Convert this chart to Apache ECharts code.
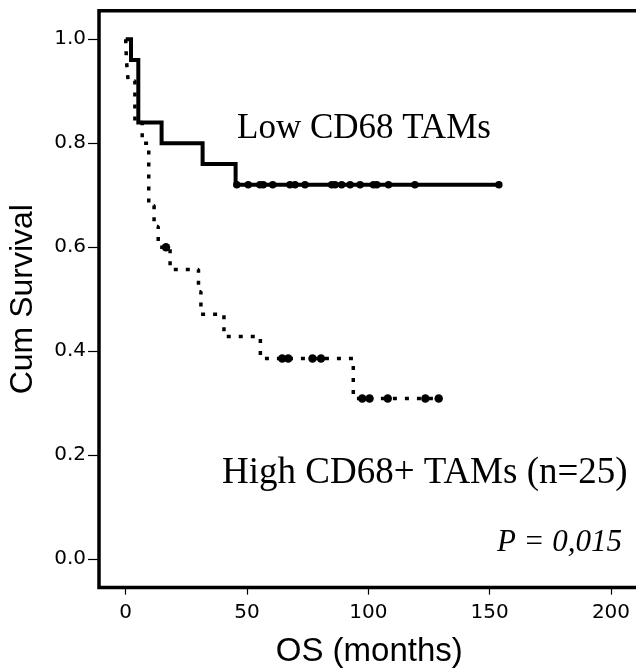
<!DOCTYPE html>
<html>
<head>
<meta charset="utf-8">
<script src="https://cdn.jsdelivr.net/npm/echarts@6/dist/echarts.min.js"></script>
<style>
  html, body { margin: 0; padding: 0; background: #fff; }
  #chart { width: 636px; height: 671px; }
</style>
</head>
<body>
<div id="chart"></div>
<script>
// Low CD68 TAMs: step points (time in months, cumulative survival)
const lowTimes = [0, 2.2, 5.2, 14.8, 31.7, 45.3, 153.8];
const lowSurv = [1.0, 0.96, 0.84, 0.80, 0.76, 0.72, 0.72];
const lowCensorTimes = [45.8, 50.5, 55.3, 56.7, 60.6, 67.7, 69.8, 73.9, 84.9, 86.3, 89.0, 92.5, 96.6, 102.1, 103.5, 108.3, 119.2, 153.8];

// High CD68+ TAMs
const highTimes = [0, 0.3, 1.0, 3.8, 6.8, 9.5, 11.7, 13.4, 18.3, 30.0, 31.0, 40.5, 55.5, 93.8, 129];
const highSurv = [1.0, 0.96, 0.92, 0.84, 0.80, 0.68, 0.64, 0.60, 0.557, 0.514, 0.471, 0.428, 0.386, 0.309, 0.309];
const highCensorTimes = [16.6, 64.5, 67, 77, 80.5, 97.5, 100.5, 108, 123.5, 129];

const xTicks = [0, 50, 100, 150, 200];
const yTicks = [0, 0.2, 0.4, 0.6, 0.8, 1.0];

// survival value of a step curve at time t
function survAt(times, surv, t) {
    let s = surv[0];
    for (let i = 0; i < times.length; i++) {
        if (times[i] <= t) s = surv[i];
    }
    return s;
}

const pair = (xs, ys) => xs.map((x, i) => [x, ys[i]]);

const chart = echarts.init(document.getElementById('chart'));
chart.setOption({
    animation: false,
    grid: {
        left: 99,
        top: 10.7,
        width: 560.5,
        height: 576.9,
        containLabel: false,
        outerBoundsMode: 'none',
        show: true,
        borderColor: '#000',
        borderWidth: 3.5,
        backgroundColor: 'transparent'
    },
    xAxis: {
        type: 'value',
        min: -11,
        max: 220,
        name: 'OS (months)',
        nameLocation: 'middle',
        nameGap: 48,
        nameTextStyle: { fontFamily: 'Liberation Sans', fontSize: 33, color: '#000', padding: [0, 20, 0, 0] },
        axisLine: { show: false, onZero: false },
        splitLine: { show: false },
        axisTick: { show: true, length: 7, inside: false, customValues: xTicks, lineStyle: { color: '#000', width: 1.2 } },
        axisLabel: {
            customValues: xTicks,
            margin: 15,
            fontFamily: 'DejaVu Sans',
            fontSize: 20,
            color: '#000'
        }
    },
    yAxis: {
        type: 'value',
        min: -0.055,
        max: 1.055,
        name: 'Cum Survival',
        nameLocation: 'middle',
        nameGap: 60,
        nameTextStyle: { fontFamily: 'Liberation Sans', fontSize: 32, color: '#000' },
        axisLine: { show: false, onZero: false },
        splitLine: { show: false },
        axisTick: { show: true, length: 11, customValues: yTicks, lineStyle: { color: '#000', width: 1.2 } },
        axisLabel: {
            customValues: yTicks,
            margin: 13,
            fontFamily: 'DejaVu Sans',
            fontSize: 20,
            color: '#000',
            formatter: v => v.toFixed(1)
        }
    },
    series: [
        {
            name: 'High CD68+ TAMs',
            type: 'line',
            step: 'end',
            data: pair(highTimes, highSurv),
            symbol: 'none',
            lineStyle: { color: '#000', width: 3.5, type: [4, 8], cap: 'butt' },
            z: 2
        },
        {
            name: 'High censored',
            type: 'scatter',
            data: highCensorTimes.map(t => [t, survAt(highTimes, highSurv, t)]),
            symbol: 'circle',
            symbolSize: 8.5,
            itemStyle: { color: '#000', opacity: 1 },
            z: 3
        },
        {
            name: 'Low CD68 TAMs',
            type: 'line',
            step: 'end',
            data: pair(lowTimes, lowSurv),
            symbol: 'none',
            lineStyle: { color: '#000', width: 4, cap: 'butt', join: 'miter' },
            z: 4
        },
        {
            name: 'Low censored',
            type: 'scatter',
            data: lowCensorTimes.map(t => [t, survAt(lowTimes, lowSurv, t)]),
            symbol: 'circle',
            symbolSize: 7.5,
            itemStyle: { color: '#000', opacity: 1 },
            z: 5
        }
    ],
    graphic: [
        {
            type: 'text',
            left: 237,
            top: 111,
            style: { text: 'Low CD68 TAMs', font: '35px "Liberation Serif"', fill: '#000' }
        },
        {
            type: 'text',
            left: 222,
            top: 455,
            style: { text: 'High CD68+ TAMs (n=25)', font: '37px "Liberation Serif"', fill: '#000' }
        },
        {
            type: 'text',
            right: 14,
            top: 527,
            style: { text: 'P = 0,015', font: 'italic 31px "Liberation Serif"', fill: '#000' }
        }
    ]
});
</script>
</body>
</html>
